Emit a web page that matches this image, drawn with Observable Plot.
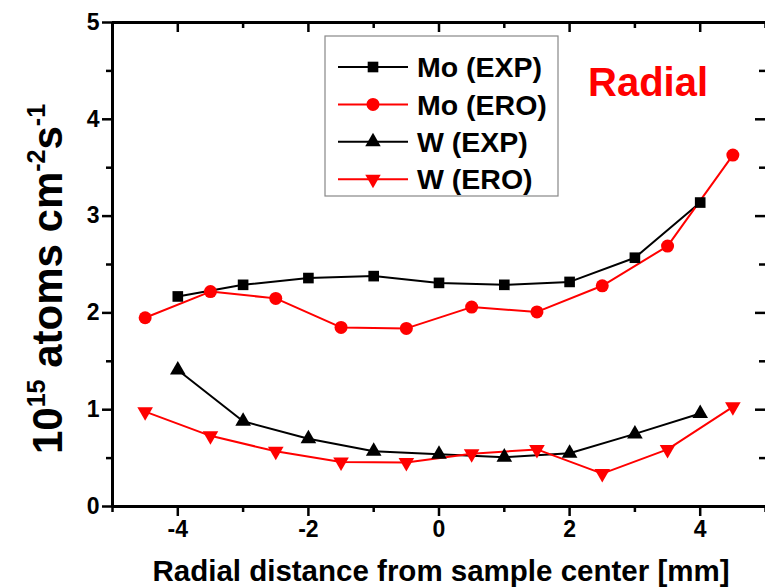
<!DOCTYPE html>
<html>
<head>
<meta charset="utf-8">
<script src="https://cdn.jsdelivr.net/npm/d3@7"></script>
<script src="https://cdn.jsdelivr.net/npm/@observablehq/plot@0.6"></script>
<style>
  html, body { margin: 0; padding: 0; background: white; }
  #chart svg { display: block; }
</style>
</head>
<body>
<div id="chart"></div>
<script>
// ---- data ----
const expX = [-4, -3, -2, -1, 0, 1, 2, 3, 4];
const eroX = [-4.5, -3.5, -2.5, -1.5, -0.5, 0.5, 1.5, 2.5, 3.5, 4.5];
const moExp = [2.17, 2.29, 2.36, 2.38, 2.31, 2.29, 2.32, 2.57, 3.14];
const moEro = [1.95, 2.22, 2.15, 1.85, 1.84, 2.06, 2.01, 2.28, 2.69, 3.63];
const wExp = [1.41, 0.88, 0.70, 0.57, 0.54, 0.51, 0.55, 0.75, 0.96];
const wEro = [0.98, 0.73, 0.57, 0.46, 0.455, 0.545, 0.59, 0.34, 0.59, 1.03];
const seriesNames = ["Mo (EXP)", "Mo (ERO)", "W (EXP)", "W (ERO)"];
const xMajor = [-4, -2, 0, 2, 4];
const xMinor = [-5, -3, -1, 1, 3, 5];
const yMajor = [0, 1, 2, 3, 4, 5];
const yMinor = [0.5, 1.5, 2.5, 3.5, 4.5];
const xTitle = "Radial distance from sample center [mm]";
const annotation = "Radial";

// ---- layout ----
const W = 765, H = 587;
const mL = 112, mR = 0, mT = 22, mB = 81;
const innerW = W - mL - mR, innerH = H - mT - mB;
const RED = "#ff0000", BLACK = "#000000";
const FONT = "'Liberation Sans', Arial, Helvetica, sans-serif";

const triDown = {
  draw(context, size) {
    const y = Math.sqrt(size / (Math.sqrt(3) * 3));
    context.moveTo(0, 2 * y);
    context.lineTo(-Math.sqrt(3) * y, -y);
    context.lineTo(Math.sqrt(3) * y, -y);
    context.closePath();
  }
};

const tbl = (xs, ys) => xs.map((x, i) => ({x, y: ys[i]}));
const dMoExp = tbl(expX, moExp), dMoEro = tbl(eroX, moEro);
const dWExp = tbl(expX, wExp), dWEro = tbl(eroX, wEro);
const fmt = d => (d < 0 ? "-" + Math.abs(d) : String(d));

const plot = Plot.plot({
  width: W, height: H,
  marginLeft: mL, marginRight: mR, marginTop: mT, marginBottom: mB,
  x: {domain: [-5, 5]},
  y: {domain: [0, 5]},
  style: {fontFamily: FONT, background: "white", color: "black", overflow: "visible"},
  marks: [
    // axes with labels
    Plot.axisX(xMajor, {tickSize: 10, tickPadding: 4, fontSize: 23, fontWeight: "bold", tickFormat: fmt, label: null, strokeWidth: 2.5}),
    Plot.axisY(yMajor, {tickSize: 10, tickPadding: 3, fontSize: 23, fontWeight: "bold", tickFormat: fmt, label: null, strokeWidth: 2.5}),
    // minor outward ticks
    Plot.ruleX(xMinor, {insetTop: innerH, insetBottom: -6, strokeWidth: 2.5}),
    Plot.ruleY(yMinor, {insetRight: innerW, insetLeft: -6, strokeWidth: 2.5}),
    // inward mirror ticks top/right
    Plot.ruleX(xMajor, {insetBottom: innerH - 10, strokeWidth: 2.5}),
    Plot.ruleX(xMinor, {insetBottom: innerH - 6, strokeWidth: 2.5}),
    Plot.ruleY(yMajor, {insetLeft: innerW - 10, strokeWidth: 2.5}),
    Plot.ruleY(yMinor, {insetLeft: innerW - 6, strokeWidth: 2.5}),
    // frame (right edge falls at the image border)
    Plot.ruleY([0, 5], {strokeWidth: 3}),
    Plot.ruleX([-5], {strokeWidth: 3}),
    // series
    Plot.line(dMoExp, {x: "x", y: "y", stroke: BLACK, strokeWidth: 2}),
    Plot.line(dMoEro, {x: "x", y: "y", stroke: RED, strokeWidth: 2}),
    Plot.line(dWExp, {x: "x", y: "y", stroke: BLACK, strokeWidth: 2}),
    Plot.line(dWEro, {x: "x", y: "y", stroke: RED, strokeWidth: 2}),
    Plot.dot(dMoExp, {x: "x", y: "y", symbol: "square", fill: BLACK, r: 6}),
    Plot.dot(dMoEro, {x: "x", y: "y", symbol: "circle", fill: RED, r: 6.5}),
    Plot.dot(dWExp, {x: "x", y: "y", symbol: "triangle", fill: BLACK, r: 5.8}),
    Plot.dot(dWEro, {x: "x", y: "y", symbol: triDown, fill: RED, r: 5.8})
  ]
});

document.getElementById("chart").appendChild(plot);
const svg = d3.select(plot);

// x-axis title
svg.append("text")
  .attr("x", 441).attr("y", 581)
  .attr("text-anchor", "middle")
  .attr("font-family", FONT).attr("font-weight", "bold").attr("font-size", 29.5)
  .attr("fill", "black")
  .text(xTitle);

// y-axis title with superscripts
const yt = svg.append("text")
  .attr("transform", "translate(62,279) rotate(-90)")
  .attr("text-anchor", "middle")
  .attr("font-family", FONT).attr("font-weight", "bold").attr("font-size", 42)
  .attr("fill", "black");
yt.append("tspan").text("10");
yt.append("tspan").attr("dy", -17).attr("font-size", 25).text("15");
yt.append("tspan").attr("dy", 17).text(" atoms cm");
yt.append("tspan").attr("dy", -17).attr("font-size", 25).text("-2");
yt.append("tspan").attr("dy", 17).text("s");
yt.append("tspan").attr("dy", -17).attr("font-size", 25).text("-1");

// annotation
svg.append("text")
  .attr("x", 588).attr("y", 96)
  .attr("text-anchor", "start")
  .attr("font-family", FONT).attr("font-weight", "bold").attr("font-size", 40)
  .attr("fill", RED)
  .text(annotation);

// legend
const lg = svg.append("g").attr("text-anchor", "start");
lg.append("rect").attr("x", 325).attr("y", 36).attr("width", 233).attr("height", 160)
  .attr("fill", "white").attr("stroke", "#888").attr("stroke-width", 1.2);
const legendStyle = [
  {color: BLACK, sym: d3.symbolSquare, size: Math.PI * 36},
  {color: RED, sym: d3.symbolCircle, size: Math.PI * 42},
  {color: BLACK, sym: d3.symbolTriangle, size: Math.PI * 33},
  {color: RED, sym: triDown, size: Math.PI * 33}
];
seriesNames.forEach((name, i) => {
  const cy = 67 + i * 37.4;
  const st = legendStyle[i];
  lg.append("line").attr("x1", 338).attr("x2", 408).attr("y1", cy).attr("y2", cy)
    .attr("stroke", st.color).attr("stroke-width", 2);
  lg.append("path").attr("d", d3.symbol(st.sym, st.size)())
    .attr("transform", `translate(373,${cy})`).attr("fill", st.color);
  lg.append("text").attr("x", 417).attr("y", cy).attr("dy", "0.36em")
    .attr("text-anchor", "start")
    .attr("font-family", FONT).attr("font-weight", "bold").attr("font-size", 28.5)
    .attr("fill", "black").text(name);
});
</script>
</body>
</html>
